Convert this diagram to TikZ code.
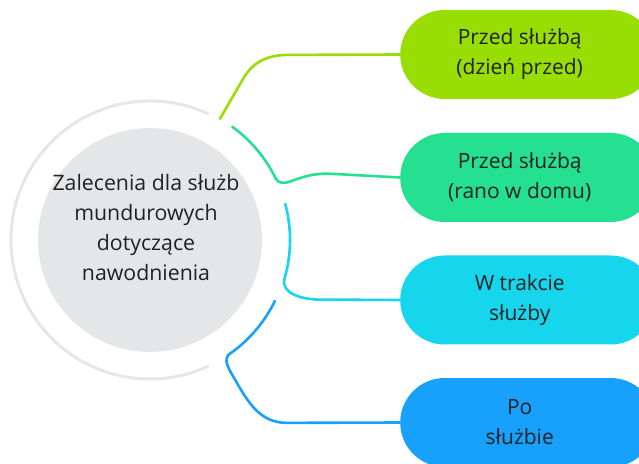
\documentclass[tikz,border=0pt]{standalone}
\usepackage{fontspec}
\setmainfont{Open Sans}
\usetikzlibrary{positioning,calc}

\definecolor{hubgray}{RGB}{229,230,232}
\definecolor{ringgray}{RGB}{230,230,230}
\definecolor{lime}{RGB}{152,222,4}
\definecolor{mint}{RGB}{38,224,146}
\definecolor{aqua}{RGB}{22,214,238}
\definecolor{sky}{RGB}{24,160,253}
\definecolor{ink}{RGB}{34,34,34}

\tikzset{
  pill/.style={rectangle, rounded corners=44.5pt, minimum width=255pt,
    minimum height=89pt, anchor=west},
  pilltext/.style={align=center, text=ink, font=\fontsize{21}{30}\selectfont},
  link/.style={line width=2.6pt, line cap=round}
}

\begin{document}
\begin{tikzpicture}[x=1pt,y=1pt]
    \clip (0,0) rectangle (639,463);
    % hub
    \coordinate (hc) at (150,223);
    \draw[ringgray, line width=3pt] (hc) ++(65:139) arc[start angle=65, end angle=295, radius=139];
    \node(hub) at (hc) [circle, fill=hubgray, minimum size=224pt] {};
    \node(title)[pilltext, font=\fontsize{21.3}{30}\selectfont] at (146,235.5)
       {Zalecenia dla służb\\mundurowych\\dotyczące\\nawodnienia};
    % steps
    \node(day) at (400,408.5) [pill, fill=lime] {};
    \node(home) at (400,285.5) [pill, fill=mint] {};
    \node(duty) at (400,163) [pill, fill=aqua] {};
    \node(after) at (400,40.5) [pill, fill=sky] {};
    \node(dayTxt) at ($(day)+(-8,0)$) [pilltext] {Przed służbą\\(dzień przed)};
    \node(homeTxt) at ($(home)+(-8,0)$) [pilltext] {Przed służbą\\(rano w domu)};
    \node(dutyTxt) at ($(duty)+(-8,0)$) [pilltext] {W trakcie\\służby};
    \node(afterTxt) at ($(after)+(-8,0)$) [pilltext] {Po\\służbie};
    % connectors
    \coordinate (s1) at ($(hc)+(60:140)$);
    \coordinate (s2) at ($(hc)+(54:140)$);
    \coordinate (s3) at ($(hc)+(15:140)$);
    \coordinate (s4) at ($(hc)+(-26:139)$);
    \draw[link, lime] (s1) -- ++(60:46) to[out=60,in=180] ++(45,24) -- (day.west);
    \draw[link, mint] (s2) arc[start angle=54, end angle=26, radius=140]
       to[out=-64,in=200] ++(14,-3) to[out=20,in=180] ++(38,8) -- (home.west);
    \draw[link, aqua] (s3) arc[start angle=15, end angle=-16, radius=140]
       to[out=-106,in=180] ++(35,-21) -- (duty.west);
    \draw[link, sky] (s4) arc[start angle=-26, end angle=-55, radius=139]
       to[out=-145,in=120] ++(2,-20) to[out=-60,in=180] ++(55,-49) -- (after.west);
  \end{tikzpicture}
\end{document}
